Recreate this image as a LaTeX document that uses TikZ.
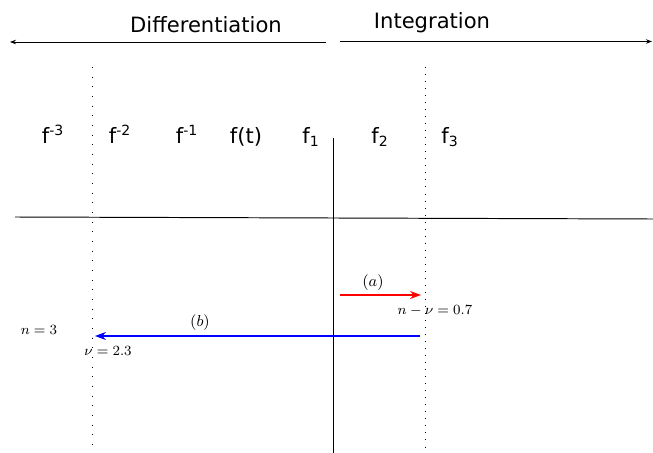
\documentclass[tikz,border=0pt]{standalone}
\usepackage{fontspec}
\usepackage{tikz}
\usetikzlibrary{arrows.meta,positioning}
\newfontfamily\figsans{DejaVu Sans}

\begin{document}
\begin{tikzpicture}[
  x=0.02cm, y=-0.02cm,
  every node/.style={inner sep=0pt},
  heading/.style={font=\figsans\fontsize{12}{14}\selectfont,anchor=base},
  fname/.style={font=\figsans\fontsize{12}{14}\selectfont,anchor=base},
  mathlbl/.style={font=\fontsize{8.5}{10}\selectfont},
  steplbl/.style={font=\fontsize{9.5}{11}\selectfont},
  dirarr/.style={-{Stealth[length=1.2mm,width=0.9mm]},line width=0.5pt},
  steparr/.style={-{Stealth[length=2.2mm,width=1.6mm]},line width=0.6pt},
  wide dots/.style={line width=0.5pt,dash pattern=on 0.5pt off 5pt},
  close dots/.style={line width=0.5pt,dash pattern=on 0.5pt off 3.5pt},
]
\useasboundingbox (0,0) rectangle (653,453);

%% Direction headings
\node[heading] (diff) at (206,32) {Differentiation};
\node[heading] (integ) at (432,29) {Integration};
\coordinate (diffR) at (326,42);
\coordinate (diffL) at (10,42);
\coordinate (integL) at (340,41.5);
\coordinate (integR) at (652,41.5);
\draw[dirarr] (diffR) -- (diffL);
\draw[dirarr] (integL) -- (integR);

%% Axes
\coordinate (axL) at (15,217);
\coordinate (axR) at (653,219);
\draw[line width=0.55pt] (axL) -- (axR);
\coordinate (zeroT) at (333,138);
\coordinate (zeroB) at (333,453);
\draw[line width=0.55pt] (zeroT) -- (zeroB);

%% Order boundaries
\coordinate (leftT) at (92.7,67);
\coordinate (leftB) at (92.7,453);
\coordinate (rightT) at (425,67);
\coordinate (rightB) at (425,453);
\draw[wide dots] (leftT) -- (leftB);
\draw[close dots] (rightT) -- (rightB);

%% Function labels
\node[fname] (fm3) at (53,143) {f\textsuperscript{-3}};
\node[fname] (fm2) at (120,143) {f\textsuperscript{-2}};
\node[fname] (fm1) at (187,143) {f\textsuperscript{-1}};
\node[fname] (f0)  at (246,143) {f(t)};
\node[fname] (f1)  at (311,143) {f\textsubscript{1}};
\node[fname] (f2)  at (380,143) {f\textsubscript{2}};
\node[fname] (f3)  at (450,143) {f\textsubscript{3}};

%% Step (a): integration of order n-nu
\coordinate (aS) at (340,295);
\coordinate (aE) at (421,295);
\draw[steparr,red] (aS) -- (aE);
\node[steplbl] (alab) at (373,283) {$(a)$};
\node[mathlbl,anchor=base] (nnu) at (435,314) {$n-\nu=0.7$};

%% Step (b): differentiation of order nu
\coordinate (bS) at (420,336);
\coordinate (bE) at (95,336);
\draw[steparr,blue] (bS) -- (bE);
\node[steplbl] (blab) at (200,323) {$(b)$};
\node[mathlbl,anchor=base] (nval) at (39,334) {$n=3$};
\node[mathlbl,anchor=base] (nuval) at (108,355) {$\nu=2.3$};

\end{tikzpicture}
\end{document}
